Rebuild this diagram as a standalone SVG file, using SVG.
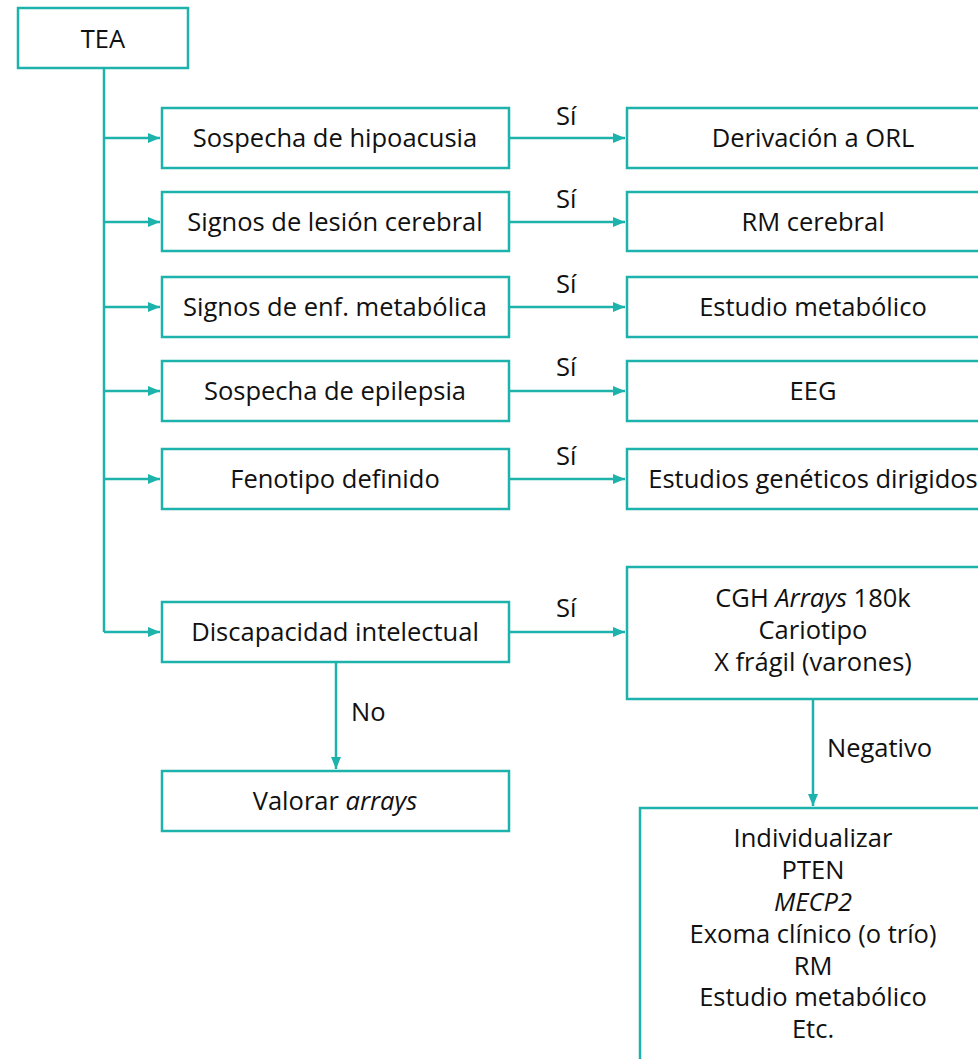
<svg xmlns="http://www.w3.org/2000/svg" width="978" height="1059" viewBox="0 0 978 1059">
<defs>
<marker id="ah" viewBox="0 0 12 10" refX="12" refY="5" markerWidth="12" markerHeight="10" markerUnits="userSpaceOnUse" orient="auto">
<path d="M0,0 L12,5 L0,10 Z" fill="#1DB3AC"/>
</marker>
<style>
.box{fill:#fff;stroke:#1DB3AC;stroke-width:2.5}
.ln{fill:none;stroke:#1DB3AC;stroke-width:2.5}
.t{font-family:"Open Sans","Noto Sans",sans-serif;font-size:25.5px;fill:#111;text-anchor:middle}
.l{font-family:"Open Sans","Noto Sans",sans-serif;font-size:25.5px;fill:#111}
.i{font-style:italic}
</style>
</defs>
<rect width="978" height="1059" fill="#fff"/>
<g id="connectors">
<path class="ln" d="M104,68 V632"/>
<path class="ln" d="M104,138 H160" marker-end="url(#ah)"/>
<path class="ln" d="M104,222 H160" marker-end="url(#ah)"/>
<path class="ln" d="M104,307 H160" marker-end="url(#ah)"/>
<path class="ln" d="M104,391 H160" marker-end="url(#ah)"/>
<path class="ln" d="M104,479 H160" marker-end="url(#ah)"/>
<path class="ln" d="M104,632 H160" marker-end="url(#ah)"/>
<path class="ln" d="M509,138 H625" marker-end="url(#ah)"/>
<path class="ln" d="M509,222 H625" marker-end="url(#ah)"/>
<path class="ln" d="M509,307 H625" marker-end="url(#ah)"/>
<path class="ln" d="M509,391 H625" marker-end="url(#ah)"/>
<path class="ln" d="M509,479 H625" marker-end="url(#ah)"/>
<path class="ln" d="M509,632 H625" marker-end="url(#ah)"/>
<path class="ln" d="M336,662 V769" marker-end="url(#ah)"/>
<path class="ln" d="M813,699 V806" marker-end="url(#ah)"/>
<text class="l" x="556" y="125">Sí</text>
<text class="l" x="556" y="208">Sí</text>
<text class="l" x="556" y="293">Sí</text>
<text class="l" x="556" y="376">Sí</text>
<text class="l" x="556" y="465">Sí</text>
<text class="l" x="556" y="617">Sí</text>
<text class="l" x="351" y="721">No</text>
<text class="l" x="827" y="757">Negativo</text>
</g>
<g id="tea"><rect class="box" x="18" y="8" width="170" height="60"/><text class="t" x="103" y="48">TEA</text></g>
<g id="hipoacusia"><rect class="box" x="162" y="108" width="347" height="60"/><text class="t" x="335" y="147">Sospecha de hipoacusia</text></g>
<g id="lesion"><rect class="box" x="162" y="192" width="347" height="59"/><text class="t" x="335" y="231">Signos de lesión cerebral</text></g>
<g id="metabolica"><rect class="box" x="162" y="277" width="347" height="60"/><text class="t" x="335" y="316">Signos de enf. metabólica</text></g>
<g id="epilepsia"><rect class="box" x="162" y="361" width="347" height="60"/><text class="t" x="335" y="400">Sospecha de epilepsia</text></g>
<g id="fenotipo"><rect class="box" x="162" y="449" width="347" height="60"/><text class="t" x="335" y="488">Fenotipo definido</text></g>
<g id="discapacidad"><rect class="box" x="162" y="602" width="347" height="60"/><text class="t" x="335" y="641">Discapacidad intelectual</text></g>
<g id="valorar"><rect class="box" x="162" y="771" width="347" height="60"/><text class="t" x="335" y="810">Valorar <tspan class="i">arrays</tspan></text></g>
<g id="orl"><rect class="box" x="627" y="108" width="380" height="60"/><text class="t" x="813" y="147">Derivación a ORL</text></g>
<g id="rm"><rect class="box" x="627" y="192" width="380" height="59"/><text class="t" x="813" y="231">RM cerebral</text></g>
<g id="estmet"><rect class="box" x="627" y="277" width="380" height="60"/><text class="t" x="813" y="316">Estudio metabólico</text></g>
<g id="eeg"><rect class="box" x="627" y="361" width="380" height="60"/><text class="t" x="813" y="400">EEG</text></g>
<g id="geneticos"><rect class="box" x="627" y="449" width="380" height="60"/><text class="t" x="813" y="488">Estudios genéticos dirigidos</text></g>
<g id="cgh"><rect class="box" x="627" y="567" width="380" height="132"/>
<text class="t" x="813" y="607">CGH <tspan class="i">Arrays</tspan> 180k</text>
<text class="t" x="813" y="639">Cariotipo</text>
<text class="t" x="813" y="671">X frágil (varones)</text></g>
<g id="individualizar"><rect class="box" x="640" y="808" width="380" height="300"/>
<text class="t" x="813" y="847">Individualizar</text>
<text class="t" x="813" y="879">PTEN</text>
<text class="t" x="813" y="911"><tspan class="i">MECP2</tspan></text>
<text class="t" x="813" y="943">Exoma clínico (o trío)</text>
<text class="t" x="813" y="975">RM</text>
<text class="t" x="813" y="1006">Estudio metabólico</text>
<text class="t" x="813" y="1038">Etc.</text></g>
</svg>
